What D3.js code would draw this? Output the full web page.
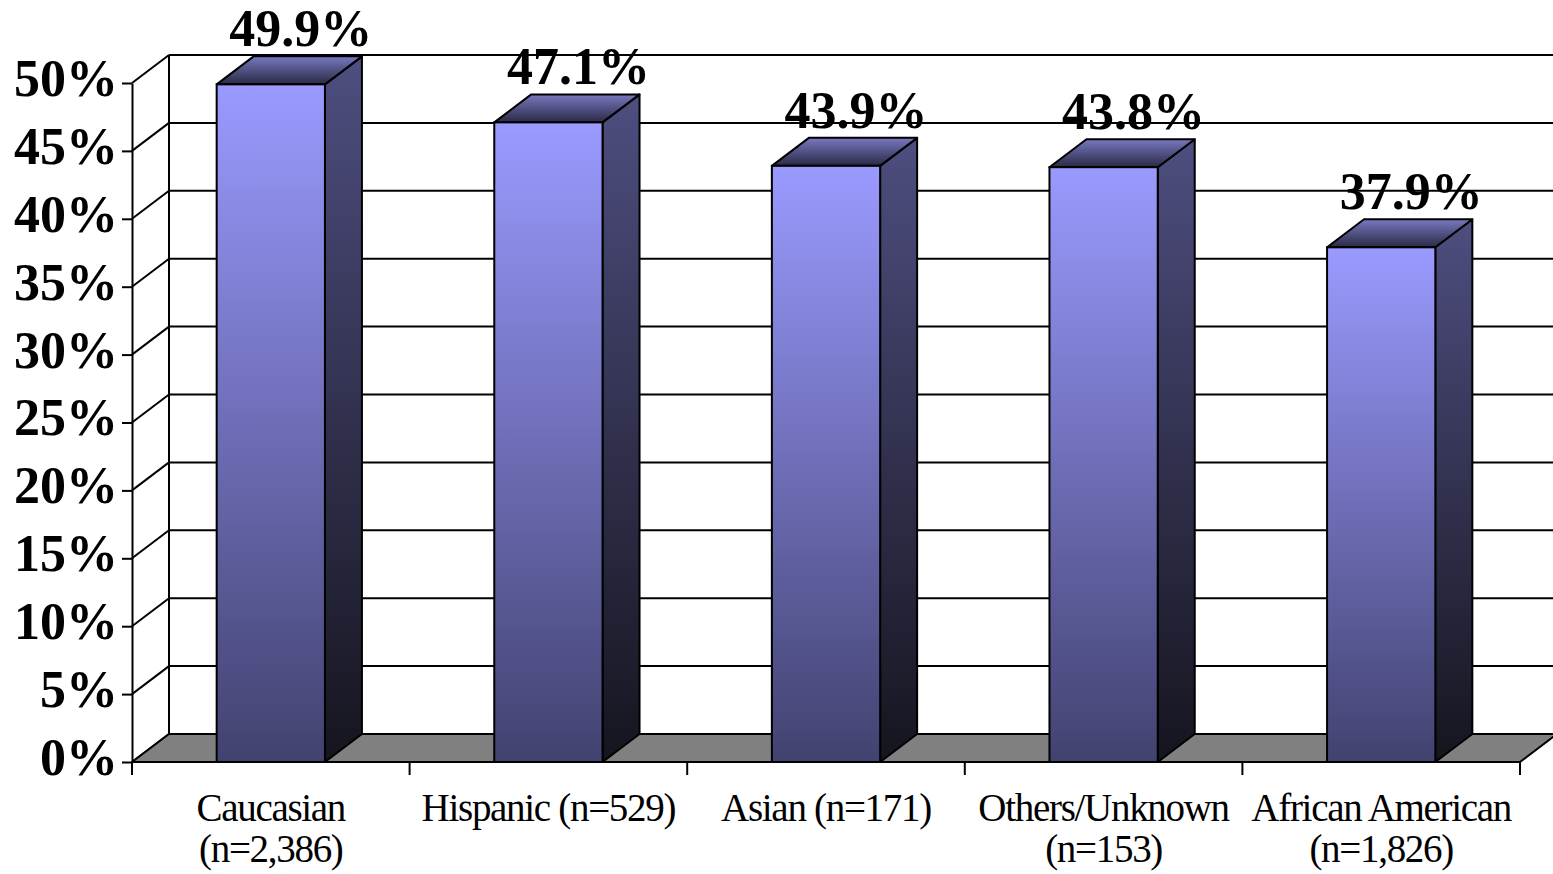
<!DOCTYPE html>
<html>
<head>
<meta charset="utf-8">
<script src="https://cdn.jsdelivr.net/npm/d3@7"></script>
<style>
  html, body { margin: 0; padding: 0; background: #ffffff; }
  svg { display: block; }
</style>
</head>
<body>
<svg id="chart" width="1553" height="874"></svg>
<script>
// Share of each group, in percent
const categories = ["Caucasian (n=2,386)", "Hispanic (n=529)", "Asian (n=171)", "Others/Unknown (n=153)", "African American (n=1,826)"];
const values = [49.9, 47.1, 43.9, 43.8, 37.9];
const yTicks = [0, 5, 10, 15, 20, 25, 30, 35, 40, 45, 50];

(function draw() {
  const svg = d3.select("#chart");
  const W = 1553;

  // front plane of the 3-D box and its depth offset
  const plotLeft = 132, plotRight = 1520, plotBottom = 762, plotTop = 83;
  const depthX = 37, depthY = -28;

  const x = d3.scaleBand().domain(categories).range([plotLeft, plotRight]).padding(0);
  const y = d3.scaleLinear().domain([0, 50]).range([plotBottom, plotTop]);
  const barW = x.bandwidth() * 0.39;

  const defs = svg.append("defs");
  function vgrad(id, stops) {
    const g = defs.append("linearGradient").attr("id", id)
      .attr("x1", 0).attr("y1", 0).attr("x2", 0).attr("y2", 1);
    stops.forEach(([o, c]) => g.append("stop").attr("offset", o).attr("stop-color", c));
  }
  vgrad("gFront", [[0, "#9a9aff"], [1, "#424270"]]);
  vgrad("gSide", [[0, "#4e4e80"], [1, "#15151f"]]);
  vgrad("gTop", [[0, "#7878c0"], [1, "#2a2a46"]]);

  const serif = "'Liberation Serif', 'Times New Roman', Times, serif";

  // back wall gridlines
  const walls = svg.append("g");
  walls.selectAll("line.grid").data(yTicks).join("line").attr("class", "grid")
    .attr("x1", plotLeft + depthX).attr("x2", W)
    .attr("y1", d => y(d) + depthY).attr("y2", d => y(d) + depthY)
    .attr("stroke", "#000").attr("stroke-width", 2);
  // side wall diagonals
  walls.selectAll("line.diag").data(yTicks).join("line").attr("class", "diag")
    .attr("x1", plotLeft).attr("y1", d => y(d))
    .attr("x2", plotLeft + depthX).attr("y2", d => y(d) + depthY)
    .attr("stroke", "#000").attr("stroke-width", 2);
  // back wall left edge
  walls.append("line")
    .attr("x1", plotLeft + depthX).attr("x2", plotLeft + depthX)
    .attr("y1", y(0) + depthY).attr("y2", y(50) + depthY)
    .attr("stroke", "#000").attr("stroke-width", 2);

  // floor
  svg.append("path")
    .attr("d", d3.line()([[plotLeft, y(0)], [plotRight, y(0)], [plotRight + depthX, y(0) + depthY], [plotLeft + depthX, y(0) + depthY]]) + "Z")
    .attr("fill", "#808080").attr("stroke", "#000").attr("stroke-width", 2).attr("stroke-linejoin", "round");

  // y axis
  const yAxis = svg.append("g").attr("transform", `translate(${plotLeft},0)`)
    .call(d3.axisLeft(y).tickValues(yTicks).tickSize(10).tickSizeOuter(0).tickPadding(4)
      .tickFormat(d => d + "%"));
  yAxis.select(".domain").attr("stroke", "#000").attr("stroke-width", 2);
  yAxis.selectAll(".tick line").attr("stroke", "#000").attr("stroke-width", 2);
  yAxis.selectAll(".tick text")
    .attr("font-family", serif).attr("font-weight", "bold").attr("font-size", 52)
    .attr("fill", "#000").attr("dy", "0.24em");

  // category ticks
  const edges = categories.map(c => x(c)).concat([plotRight]);
  svg.selectAll("line.xtick").data(edges).join("line").attr("class", "xtick")
    .attr("x1", d => d).attr("x2", d => d)
    .attr("y1", plotBottom).attr("y2", plotBottom + 13)
    .attr("stroke", "#000").attr("stroke-width", 2);

  // bars
  const bars = svg.append("g").selectAll("g").data(values).join("g");
  bars.each(function(v, i) {
    const g = d3.select(this);
    const cx = x(categories[i]) + x.bandwidth() / 2;
    const x0 = cx - barW / 2, x1 = cx + barW / 2;
    const yt = y(v), yb = y(0);
    const L = d3.line();
    g.append("path").attr("d", L([[x1, yt], [x1 + depthX, yt + depthY], [x1 + depthX, yb + depthY], [x1, yb]]) + "Z")
      .attr("fill", "url(#gSide)").attr("stroke", "#000").attr("stroke-width", 2).attr("stroke-linejoin", "round");
    g.append("path").attr("d", L([[x0, yt], [x0 + depthX, yt + depthY], [x1 + depthX, yt + depthY], [x1, yt]]) + "Z")
      .attr("fill", "url(#gTop)").attr("stroke", "#000").attr("stroke-width", 2).attr("stroke-linejoin", "round");
    g.append("rect").attr("x", x0).attr("y", yt).attr("width", barW).attr("height", yb - yt)
      .attr("fill", "url(#gFront)").attr("stroke", "#000").attr("stroke-width", 2);
    g.append("text")
      .attr("x", cx + 30).attr("y", yt + depthY - 10)
      .attr("text-anchor", "middle")
      .attr("font-family", serif).attr("font-weight", "bold").attr("font-size", 52)
      .attr("fill", "#000")
      .text(v.toFixed(1) + "%");
  });

  // category labels, wrapped to the band width
  const catG = svg.append("g");
  const baseY = 821, lineGap = 41;
  categories.forEach(c => {
    const cx = x(c) + x.bandwidth() / 2;
    const t = catG.append("text")
      .attr("x", cx).attr("y", baseY).attr("text-anchor", "middle")
      .attr("font-family", serif).attr("font-size", 39).attr("letter-spacing", "-1.3px")
      .attr("fill", "#000");
    const words = c.split(" ");
    let line = [], lineNo = 0;
    let ts = t.append("tspan").attr("x", cx).attr("y", baseY);
    words.forEach(w => {
      line.push(w);
      ts.text(line.join(" "));
      if (ts.node().getComputedTextLength() > x.bandwidth() - 4 && line.length > 1) {
        line.pop();
        ts.text(line.join(" "));
        line = [w];
        lineNo++;
        ts = t.append("tspan").attr("x", cx).attr("y", baseY + lineNo * lineGap).text(w);
      }
    });
  });
})();
</script>
</body>
</html>
